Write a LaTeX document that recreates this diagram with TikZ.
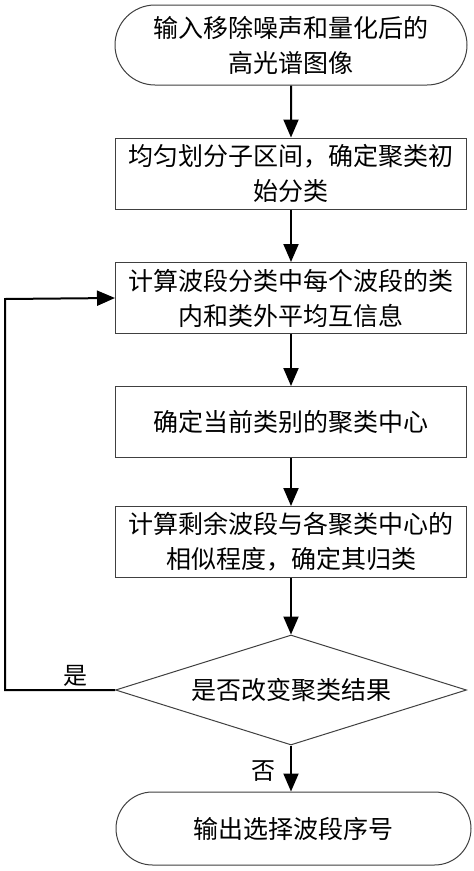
\documentclass[tikz,border=0pt]{standalone}
\usepackage{fontspec}
\setmainfont{Noto Sans CJK SC}
\usetikzlibrary{shapes.misc,shapes.geometric,arrows.meta}
\begin{document}
\begin{tikzpicture}[x=1pt,y=-1pt,
  every node/.style={font=\fontsize{25}{35}\selectfont, align=center, inner sep=0pt},
  procbox/.style={draw=black!75, line width=1pt, minimum width=351pt, minimum height=71pt},
  termbox/.style={draw=black!75, line width=1pt, rounded rectangle, minimum width=352pt, minimum height=80pt},
  flow/.style={line width=2pt, -{Triangle[width=15pt,length=18pt]}},
  lbl/.style={font=\fontsize{24}{26}\selectfont}]
\useasboundingbox (0,0) rectangle (474,871);
\fill[white] (0,0) rectangle (474,871);
\node[termbox] (start) at (291,45) {输入移除噪声和量化后的\\高光谱图像};
\node[procbox] (init) at (291,173.5) {均匀划分子区间，确定聚类初\\始分类};
\node[procbox] (mi) at (291,298) {计算波段分类中每个波段的类\\内和类外平均互信息};
\node[procbox] (center) at (291,422) {确定当前类别的聚类中心};
\node[procbox] (assign) at (291,542) {计算剩余波段与各聚类中心的\\相似程度，确定其归类};
\node[draw=black!75, line width=1pt, shape=diamond, minimum width=351pt, minimum height=110pt, inner sep=0pt] (dec) at (291,690) {};
\node at (dec.center) {是否改变聚类结果};
\node[draw=black!75, line width=1pt, rounded rectangle, minimum width=355pt, minimum height=73pt] (stop) at (293.5,828.5) {输出选择波段序号};
\coordinate (c1) at (5,690);
\coordinate (c2) at (5,299);
\draw[flow] (start) -- (init);
\draw[flow] (init) -- (mi);
\draw[flow] (mi) -- (center);
\draw[flow] (center) -- (assign);
\draw[flow] (assign) -- (dec);
\draw[flow] (dec.south) -- (dec.south |- stop.north);
\draw[flow] (dec.west) -- (c1) -- (c2) -- (mi.west);
\node[lbl] (yes) at (75,676) {是};
\node[lbl] (no) at (263,771) {否};
\end{tikzpicture}
\end{document}
